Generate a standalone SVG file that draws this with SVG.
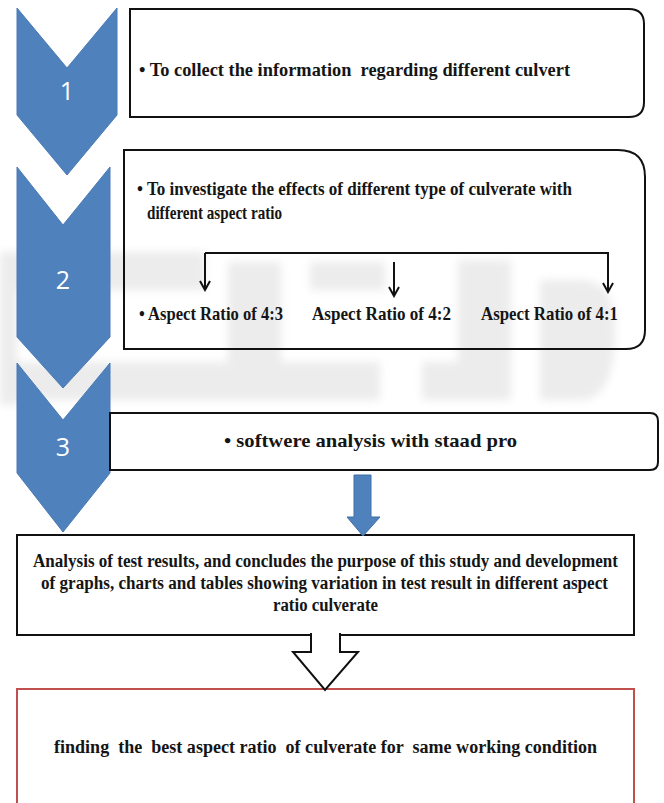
<svg xmlns="http://www.w3.org/2000/svg" width="664" height="803" viewBox="0 0 664 803">
<defs>
<style>
.chev{fill:#4f81bd;stroke:#4a7bb5;stroke-width:1}
.num{fill:#ffffff;font-family:"Open Sans","Liberation Sans",sans-serif;font-size:25px;text-anchor:middle}
.box{fill:none;stroke:#111;stroke-width:2}
.t{fill:#151515;font-family:"Liberation Serif","Times New Roman",serif;font-weight:bold;font-size:19px;white-space:pre}
.t4{font-size:18px}
.con{fill:none;stroke:#111;stroke-width:2}
.wm{fill:#ececec}
</style>
<filter id="blur" x="-10%" y="-10%" width="120%" height="120%"><feGaussianBlur stdDeviation="4"/></filter>
<marker id="vhead" viewBox="0 0 12 12" refX="10" refY="6" markerWidth="12" markerHeight="12" markerUnits="userSpaceOnUse" orient="auto">
<path d="M1,1 L10,6 L1,11" fill="none" stroke="#111" stroke-width="2"/>
</marker>
</defs>
<rect width="664" height="803" fill="#ffffff"/>
<g id="watermark" filter="url(#blur)">
<rect class="wm" x="0" y="252" width="205" height="38"/>
<rect class="wm" x="0" y="290" width="17" height="115"/>
<rect class="wm" x="0" y="362" width="245" height="38"/>
<rect class="wm" x="228" y="262" width="53" height="138"/>
<rect class="wm" x="310" y="262" width="75" height="28"/>
<rect class="wm" x="281" y="362" width="99" height="38"/>
<rect class="wm" x="458" y="260" width="53" height="140"/>
<rect class="wm" x="422" y="362" width="84" height="38"/>
<path class="wm" d="M540,280 H580 Q615,280 615,330 Q615,400 580,400 H540 Z"/>
</g>
<g id="chevron1">
<polygon class="chev" points="17,8 67,68 117,8 117,115 67,175 17,115"/>
<text class="num" x="67" y="100">1</text>
</g>
<g id="chevron2">
<polygon class="chev" points="17,167 63,225 110,167 110,337 63,388 17,337"/>
<text class="num" x="63" y="289">2</text>
</g>
<g id="chevron3">
<polygon class="chev" points="17,363 63,420 110,363 110,473 63,532 17,473"/>
<text class="num" x="63" y="456">3</text>
</g>
<g id="box1">
<path class="box" d="M130,9 H629 Q644,9 644,24 V102 Q644,117 629,117 H130 Z"/>
<text class="t" x="139" y="76" textLength="431" lengthAdjust="spacingAndGlyphs">• To collect the information  regarding different culvert</text>
</g>
<g id="box2">
<path class="box" d="M124,150 H618 Q645,150 645,177 V330 Q645,349 626,349 H124 Z"/>
<text class="t" x="137" y="195" textLength="435" lengthAdjust="spacingAndGlyphs">• To investigate the effects of different type of culverate with</text>
<text class="t" x="147" y="219" textLength="135" lengthAdjust="spacingAndGlyphs">different aspect ratio</text>
</g>
<g id="ratio43">
<text class="t" x="139" y="320" textLength="144" lengthAdjust="spacingAndGlyphs">• Aspect Ratio of 4:3</text>
</g>
<g id="ratio42">
<text class="t" x="312" y="320" textLength="139" lengthAdjust="spacingAndGlyphs">Aspect Ratio of 4:2</text>
</g>
<g id="ratio41">
<text class="t" x="481" y="320" textLength="137" lengthAdjust="spacingAndGlyphs">Aspect Ratio of 4:1</text>
</g>
<g id="box3">
<path class="box" d="M110,413 H650 Q658,413 658,421 V462 Q658,470 650,470 H110 Z"/>
<text class="t" x="224" y="447" textLength="293" lengthAdjust="spacingAndGlyphs">• softwere analysis with staad pro</text>
</g>
<g id="box4">
<rect class="box" x="17" y="535" width="617" height="100"/>
<text class="t t4" x="33" y="567" textLength="585" lengthAdjust="spacingAndGlyphs">Analysis of test results, and concludes the purpose of this study and development</text>
<text class="t t4" x="41" y="589" textLength="567" lengthAdjust="spacingAndGlyphs">of graphs, charts and tables showing variation in test result in different aspect</text>
<text class="t t4" x="273" y="611" textLength="105" lengthAdjust="spacingAndGlyphs">ratio culverate</text>
</g>
<g id="box5">
<rect x="17" y="689" width="617" height="130" fill="#ffffff" stroke="#c0504d" stroke-width="2"/>
<text class="t t4" x="54" y="753" textLength="543" lengthAdjust="spacingAndGlyphs">finding  the  best aspect ratio  of culverate for  same working condition</text>
</g>
<g id="connectors">
<path class="con" d="M205,253 H608 V292" marker-end="url(#vhead)"/>
<path class="con" d="M205,253 V290" marker-end="url(#vhead)"/>
<path class="con" d="M394,262 V296" marker-end="url(#vhead)"/>
<path d="M354,475 H371 V517 H380 L363,536 L347,517 H354 Z" fill="#4f81bd" stroke="#3f6ea6" stroke-width="1"/>
<path d="M311,633 V652 H293 L325,690 L358,652 H340 V633" fill="#ffffff" stroke="#111" stroke-width="2"/>
</g>
</svg>
